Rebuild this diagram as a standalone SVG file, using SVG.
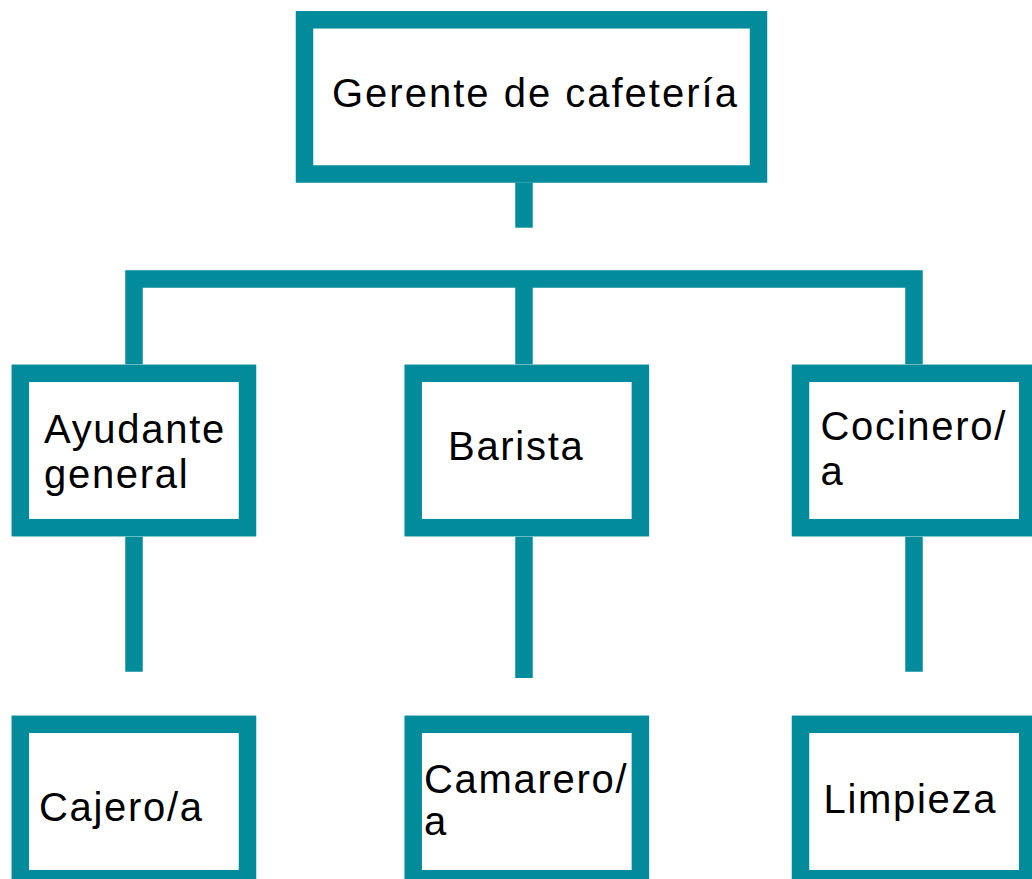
<svg xmlns="http://www.w3.org/2000/svg" width="1032" height="879" viewBox="0 0 1032 879">
<style>
.box{fill:#fff;stroke:#028b9b;stroke-width:17.5}
.ln{fill:none;stroke:#028b9b;stroke-width:17.5;stroke-linejoin:miter;stroke-linecap:butt}
text{font-family:"Liberation Sans",Arial,sans-serif;font-size:40px;letter-spacing:1.7px;fill:#000}
</style>
<rect width="1032" height="879" fill="#fff"/>
<g id="connectors">
<path class="ln" d="M524 182.7V227.7"/>
<path class="ln" d="M134 364.3V279H914V364.3"/>
<path class="ln" d="M524 279V364.3"/>
<path class="ln" d="M134 536.7V671.7"/>
<path class="ln" d="M524 536.7V678"/>
<path class="ln" d="M914 536.7V671.7"/>
</g>
<g id="gerente">
<rect class="box" x="304.5" y="19.8" width="454" height="154.2"/>
<text x="332" y="107" style="letter-spacing:2px">Gerente de cafetería</text>
</g>
<g id="ayudante">
<rect class="box" x="20.3" y="373.3" width="227.2" height="154.4"/>
<text x="44" y="442.7">Ayudante</text>
<text x="44" y="488.3">general</text>
</g>
<g id="barista">
<rect class="box" x="413.2" y="373.3" width="227.2" height="154.4"/>
<text x="448" y="459.5">Barista</text>
</g>
<g id="cocinero">
<rect class="box" x="800.5" y="373.3" width="227.2" height="154.4"/>
<text x="820.5" y="440">Cocinero/</text>
<text x="820.5" y="484.5">a</text>
</g>
<g id="cajero">
<rect class="box" x="20.3" y="724.3" width="227.2" height="154.4"/>
<text x="39" y="821">Cajero/a</text>
</g>
<g id="camarero">
<rect class="box" x="413.2" y="724.3" width="227.2" height="154.4"/>
<text x="424" y="793.3">Camarero/</text>
<text x="424" y="835">a</text>
</g>
<g id="limpieza">
<rect class="box" x="800.5" y="724.3" width="227.2" height="154.4"/>
<text x="823.5" y="813.3">Limpieza</text>
</g>
</svg>
